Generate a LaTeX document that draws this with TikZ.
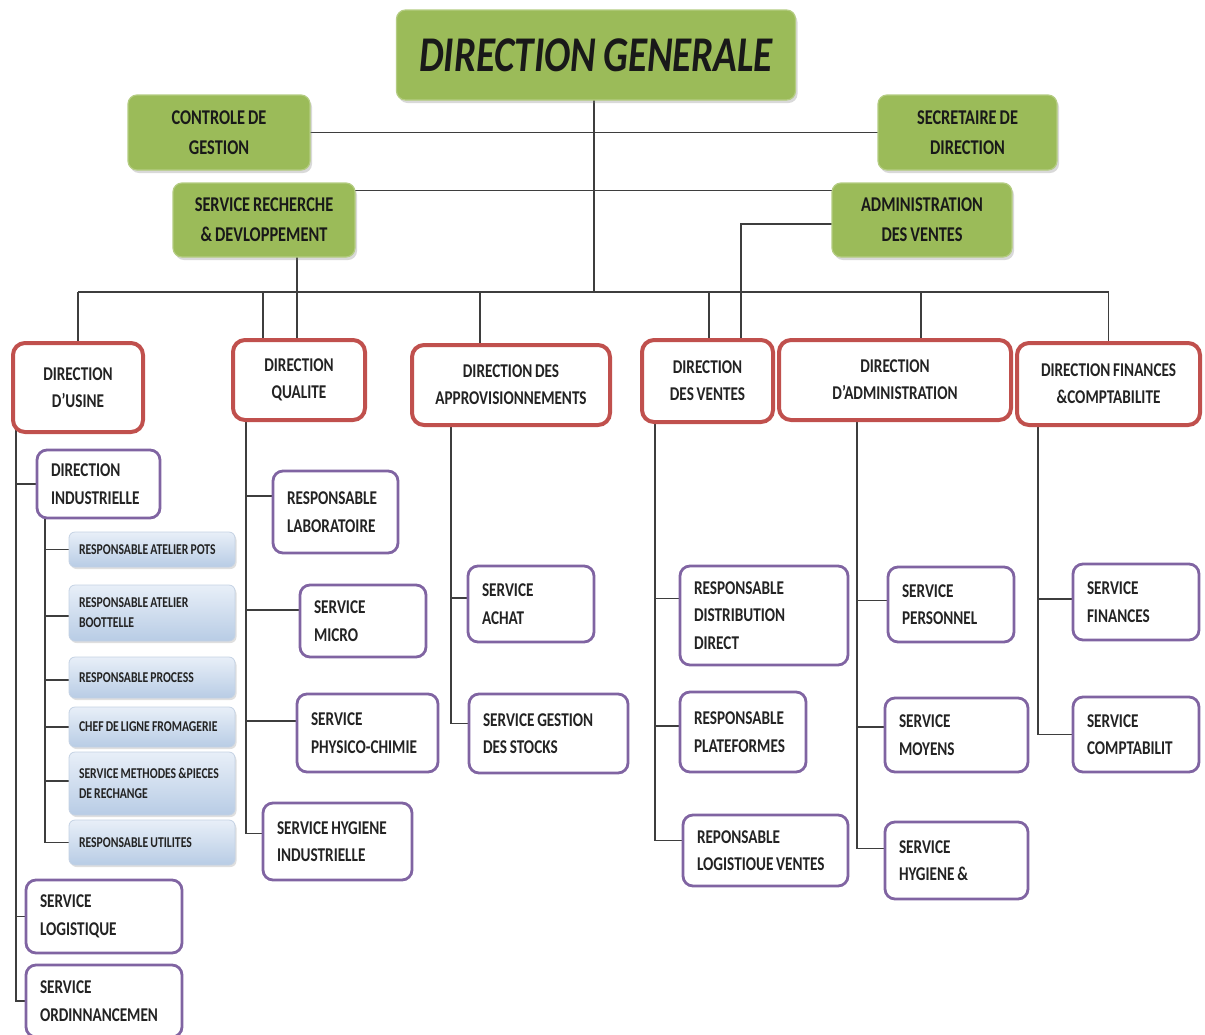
\documentclass[tikz,border=0pt]{standalone}
\usepackage{fontspec}
\setmainfont{Carlito}[FakeStretch=0.78, WordSpace=0.8]
\usetikzlibrary{shadows,backgrounds}

\definecolor{ogreen}{RGB}{155,187,89}
\definecolor{ored}{RGB}{192,80,77}
\definecolor{opurple}{RGB}{128,100,162}
\definecolor{btop}{RGB}{232,239,248}
\definecolor{bbot}{RGB}{184,204,229}
\definecolor{bedge}{RGB}{196,210,228}
\definecolor{linkgray}{RGB}{62,62,62}
\definecolor{ink}{RGB}{35,35,35}
\newcommand{\nobreakwords}{\hyphenpenalty=10000\relax}

\begin{document}
\begin{tikzpicture}[x=1pt,y=-1pt,
  gbox/.style={fill=ogreen, draw=ogreen!75!white, line width=1.2pt, rounded corners=9pt,
    drop shadow={shadow xshift=2pt, shadow yshift=-3pt, opacity=0.3},
    align=center, text=black!90, inner sep=0pt,
    font=\fontsize{21}{30}\selectfont\bfseries},
  rbox/.style={draw=ored, line width=4pt, fill=white, rounded corners=12pt,
    align=center, text=ink, inner sep=0pt,
    font=\fontsize{19.5}{27}\selectfont\bfseries},
  pbox/.style={draw=opurple, line width=2.8pt, fill=white, rounded corners=10pt,
    align=flush left, text=ink, inner xsep=14pt, inner ysep=0pt,
    font=\fontsize{19.5}{27.5}\selectfont\bfseries\nobreakwords},
  bbox/.style={top color=btop, bottom color=bbot, draw=bedge, line width=0.8pt,
    rounded corners=6pt, align=flush left, text=ink, inner xsep=10pt, inner ysep=0pt,
    drop shadow={shadow xshift=1.5pt, shadow yshift=-2pt, opacity=0.25},
    text width=146pt, minimum height=#1,
    font=\fontsize{15}{20}\selectfont\bfseries\nobreakwords},
  link/.style={draw=linkgray, line width=1.8pt}]

\useasboundingbox (0,0) rectangle (1205,1034);

% ---- top management ----
\node[gbox, minimum width=399pt, minimum height=90pt] (dg) at (596,55)
  {\fontsize{50}{60}\selectfont\bfseries\itshape DIRECTION GENERALE};
\node[gbox, minimum width=182pt, minimum height=75pt] (cdg) at (219,132.5)
  {CONTROLE DE\\GESTION};
\node[gbox, minimum width=179pt, minimum height=75pt] (sec) at (967.5,132.5)
  {SECRETAIRE DE\\DIRECTION};
\node[gbox, minimum width=182pt, minimum height=74pt] (srd) at (264,220)
  {SERVICE RECHERCHE\\\& DEVLOPPEMENT};
\node[gbox, minimum width=180pt, minimum height=74pt] (adv) at (922,220)
  {ADMINISTRATION\\DES VENTES};

% ---- directions ----
\node[rbox, minimum width=130pt, minimum height=89pt] (usine) at (78,387.5)
  {DIRECTION\\D'USINE};
\node[rbox, minimum width=132pt, minimum height=80pt] (qual) at (299,380)
  {DIRECTION\\QUALITE};
\node[rbox, minimum width=198pt, minimum height=80pt] (appro) at (511,385)
  {DIRECTION DES\\APPROVISIONNEMENTS};
\node[rbox, minimum width=131pt, minimum height=82pt] (ventes) at (707.5,381)
  {DIRECTION\\DES VENTES};
\node[rbox, minimum width=232pt, minimum height=80pt] (admin) at (895,380)
  {DIRECTION\\D'ADMINISTRATION};
\node[rbox, minimum width=183pt, minimum height=82pt] (fin) at (1108.5,384)
  {DIRECTION FINANCES\\\&COMPTABILITE};

% ---- direction d'usine ----
\node[pbox, text width=95pt, minimum height=68pt] (indus) at (98.5,484)
  {DIRECTION\\INDUSTRIELLE};
\node[bbox=35pt] (pots) at (152,549.5) {RESPONSABLE ATELIER POTS};
\node[bbox=56pt] (boot) at (152,613) {RESPONSABLE ATELIER\\BOOTTELLE};
\node[bbox=41pt] (process) at (152,677.5) {RESPONSABLE PROCESS};
\node[bbox=40pt] (chef) at (152,727) {CHEF DE LIGNE FROMAGERIE};
\node[bbox=63pt] (meth) at (152,783.5) {SERVICE METHODES \&PIECES\\DE RECHANGE};
\node[bbox=45pt] (util) at (152,842.5) {RESPONSABLE UTILITES};
\node[pbox, text width=128pt, minimum height=73pt] (logi) at (104,916.5)
  {SERVICE\\LOGISTIQUE};
\node[pbox, text width=128pt, minimum height=72pt] (ord) at (104,1001)
  {SERVICE\\ORDINNANCEMEN};

% ---- direction qualite ----
\node[pbox, text width=97pt, minimum height=82pt] (lab) at (335.5,512)
  {RESPONSABLE\\LABORATOIRE};
\node[pbox, text width=98pt, minimum height=72pt] (micro) at (363,621)
  {SERVICE\\MICRO};
\node[pbox, text width=113pt, minimum height=78pt] (physico) at (367.5,733)
  {SERVICE\\PHYSICO-CHIMIE};
\node[pbox, text width=121pt, minimum height=77pt] (hyg) at (337.5,841.5)
  {SERVICE HYGIENE\\INDUSTRIELLE};

% ---- direction des approvisionnements ----
\node[pbox, text width=98pt, minimum height=76pt] (achat) at (531,604)
  {SERVICE\\ACHAT};
\node[pbox, text width=131pt, minimum height=79pt] (stocks) at (548.5,733.5)
  {SERVICE GESTION\\DES STOCKS};

% ---- direction des ventes ----
\node[pbox, text width=140pt, minimum height=99pt] (dist) at (764,615.5)
  {RESPONSABLE\\DISTRIBUTION\\DIRECT};
\node[pbox, text width=98pt, minimum height=80pt] (plat) at (743,732)
  {RESPONSABLE\\PLATEFORMES};
\node[pbox, text width=137pt, minimum height=71pt] (logv) at (765.5,850.5)
  {REPONSABLE\\LOGISTIOUE VENTES};

% ---- direction d'administration ----
\node[pbox, text width=98pt, minimum height=75pt] (pers) at (951,604.5)
  {SERVICE\\PERSONNEL};
\node[pbox, text width=115pt, minimum height=74pt] (moy) at (956.5,735)
  {SERVICE\\MOYENS};
\node[pbox, text width=115pt, minimum height=77pt] (hygs) at (956.5,860.5)
  {SERVICE\\HYGIENE \&};

% ---- direction finances & comptabilite ----
\node[pbox, text width=98pt, minimum height=76pt] (sfin) at (1136,602)
  {SERVICE\\FINANCES};
\node[pbox, text width=98pt, minimum height=75pt] (comp) at (1136,734.5)
  {SERVICE\\COMPTABILIT};

% ---- connectors (behind the boxes) ----
\begin{scope}[on background layer]
  \coordinate (bus) at (0,292);
  % top level
  \draw[link] ([xshift=-2pt]dg.center) -- ([xshift=-2pt]dg.center |- bus);
  \draw[link] (cdg.center) -- (sec.center);
  \draw[link] ([xshift=-6pt,yshift=-8pt]srd.north east) -- ([xshift=6pt,yshift=-8pt]adv.north west);
  \draw[link] ([yshift=-4pt]adv.center) -| ([xshift=33.5pt]ventes.center);
  \draw[link] ([xshift=-2pt]srd.center -| qual.north) -- ([xshift=-2pt]qual.center);
  % horizontal bus and drops
  \draw[link] (usine.north |- bus) -- (fin.north |- bus);
  \draw[link] (usine.center) -- (usine.north |- bus);
  \draw[link] ([xshift=-36pt]qual.center) -- ([xshift=-36pt]qual.north |- bus);
  \draw[link] ([xshift=-31pt]appro.center) -- ([xshift=-31pt]appro.north |- bus);
  \draw[link] ([xshift=1.5pt]ventes.center) -- ([xshift=1.5pt]ventes.north |- bus);
  \draw[link] ([xshift=26pt]admin.center) -- ([xshift=26pt]admin.north |- bus);
  \draw[link] (fin.center) -- (fin.north |- bus);
  % trunk points under each direction
  \coordinate (tu) at ([xshift=5pt,yshift=20pt]usine.south west);
  \coordinate (ti) at ([xshift=9pt,yshift=15pt]indus.south west);
  \coordinate (tq) at ([xshift=15pt,yshift=20pt]qual.south west);
  \coordinate (ta) at ([xshift=41pt,yshift=20pt]appro.south west);
  \coordinate (tv) at ([xshift=15pt,yshift=20pt]ventes.south west);
  \coordinate (tad) at ([xshift=80pt,yshift=20pt]admin.south west);
  \coordinate (tf) at ([xshift=23pt,yshift=20pt]fin.south west);
  % direction d'usine
  \draw[link] (tu) |- (indus.west);
  \draw[link] (tu) |- (logi.west);
  \draw[link] (tu) |- (ord.west);
  \draw[link] (ti) |- (pots.west);
  \draw[link] (ti) |- ([yshift=-3pt]boot.west);
  \draw[link] (ti) |- ([yshift=-2.5pt]process.west);
  \draw[link] (ti) |- (chef.west);
  \draw[link] (ti) |- ([yshift=2.5pt]meth.west);
  \draw[link] (ti) |- (util.west);
  % direction qualite
  \draw[link] (tq) |- ([yshift=16pt]lab.west);
  \draw[link] (tq) |- ([yshift=11pt]micro.west);
  \draw[link] (tq) |- ([yshift=12pt]physico.west);
  \draw[link] (tq) |- ([yshift=8pt]hyg.west);
  % direction des approvisionnements
  \draw[link] (ta) |- ([yshift=6pt]achat.west);
  \draw[link] (ta) |- ([yshift=10pt]stocks.west);
  % direction des ventes
  \draw[link] (tv) |- ([yshift=17pt]dist.west);
  \draw[link] (tv) |- ([yshift=6pt]plat.west);
  \draw[link] (tv) |- ([yshift=10pt]logv.west);
  % direction d'administration
  \draw[link] (tad) |- ([yshift=4pt]pers.west);
  \draw[link] (tad) |- ([yshift=8pt]moy.west);
  \draw[link] (tad) |- ([yshift=12pt]hygs.west);
  % direction finances & comptabilite
  \draw[link] (tf) |- ([yshift=3pt]sfin.west);
  \draw[link] (tf) |- (comp.west);
\end{scope}
\end{tikzpicture}
\end{document}
